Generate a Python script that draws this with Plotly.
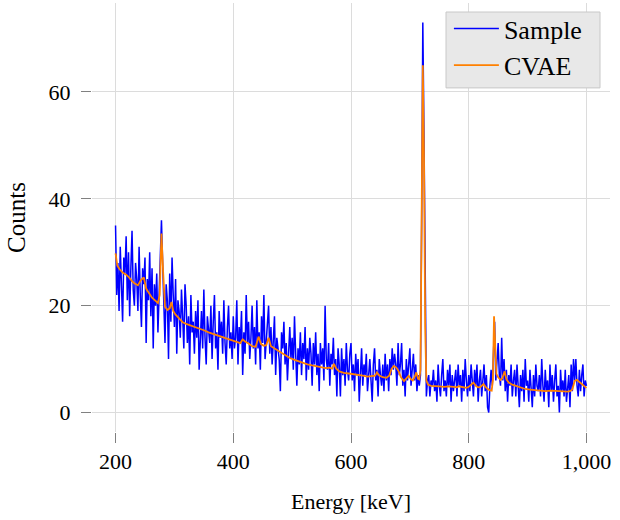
import plotly.graph_objects as go

# Sample spectrum: 2 keV bins from 200 to 1000 keV
energy_start = 200
energy_step = 2
sample_counts = [
    35, 22, 28, 19, 31, 24, 17, 29, 26, 33,
    21, 30, 18, 27, 34, 23, 20, 28, 25, 19,
    31, 22, 16, 27, 24, 29, 13, 25, 21, 30,
    18, 27, 12, 24, 20, 26, 15, 22, 29, 36,
    28, 19, 13, 24, 21, 10, 26, 17, 29, 22,
    16, 25, 11, 21, 19, 14, 23, 18, 12, 24,
    20, 13, 18, 9, 22, 15, 17, 11, 19, 14,
    21, 8, 16, 19, 12, 23, 14, 9, 18, 16,
    13, 20, 10, 17, 22, 12, 15, 8, 19, 14,
    17, 11, 21, 13, 9, 16, 20, 12, 15, 10,
    18, 12, 14, 21, 9, 16, 13, 19, 7, 15,
    11, 22, 13, 17, 10, 14, 20, 12, 16, 9,
    21, 12, 15, 8, 18, 13, 22, 10, 14, 17,
    20, 11, 16, 9, 13, 18, 7, 14, 12, 10,
    4, 15, 12, 17, 9, 13, 6, 11, 16, 10,
    14, 8, 18, 11, 5, 12, 9, 15, 7, 13,
    10, 16, 6, 12, 8, 14, 11, 5, 13, 9,
    15, 7, 11, 4, 13, 9, 12, 6, 20, 10,
    8, 13, 5, 11, 9, 14, 7, 10, 3, 12,
    9, 3, 12, 7, 10, 5, 13, 8, 6, 11,
    13, 6, 9, 4, 11, 7, 10, 2, 8, 12,
    5, 9, 7, 11, 4, 8, 10, 6, 2, 9,
    12, 6, 8, 3, 10, 7, 5, 9, 4, 11,
    6, 9, 4, 10, 7, 12, 8, 11, 9, 5,
    13, 7, 9, 13, 5, 8, 3, 10, 6, 9,
    12, 5, 8, 11, 6, 9, 4, 7, 5, 7,
    35, 73, 52, 18, 3, 6, 7, 3, 6, 5,
    8, 4, 6, 2, 9, 5, 3, 7, 10, 4,
    6, 3, 8, 5, 9, 2, 7, 4, 6, 8,
    3, 9, 5, 7, 2, 8, 4, 10, 6, 3,
    7, 4, 9, 6, 3, 8, 5, 9, 2, 6,
    8, 3, 6, 9, 4, 7, 1, 0, 5, 8,
    5, 10, 17, 6, 9, 13, 7, 5, 14, 6,
    10, 4, 8, 2, 7, 5, 9, 3, 6, 8,
    3, 9, 5, 1, 7, 4, 8, 2, 10, 5,
    6, 2, 8, 4, 1, 7, 3, 9, 5, 4,
    7, 3, 10, 5, 2, 8, 4, 6, 1, 9,
    4, 7, 2, 6, 9, 3, 5, 0, 8, 4,
    6, 3, 8, 2, 5, 7, 1, 9, 4, 10,
    6, 10, 5, 3, 8, 4, 7, 9, 3, 6,
    5,
]
sample_energy = [energy_start + energy_step * i for i in range(len(sample_counts))]

# CVAE reconstruction
cvae_energy = [
    200, 203, 207, 212, 218, 223, 228, 232, 238, 243, 248, 252, 257, 262, 267, 272,
    275, 278, 281, 284, 288, 292, 295, 298, 302, 308, 314, 320, 328, 335, 342, 350,
    358, 366, 374, 382, 390, 398, 406, 412, 416, 420, 426, 432, 438, 443, 447, 452,
    456, 460, 464, 470, 477, 484, 490, 496, 503, 510, 518, 526, 534, 542, 550, 557,
    563, 568, 571, 575, 580, 588, 596, 604, 612, 620, 628, 636, 641, 644, 648, 654,
    660, 665, 669, 673, 677, 681, 685, 690, 694, 698, 702, 705, 708, 711, 714, 716,
    718, 720, 722, 724, 726, 728, 731, 736, 742, 750, 758, 766, 774, 780, 783, 790,
    796, 800, 805, 808, 812, 816, 820, 825, 830, 835, 839, 841, 843, 845, 847, 850,
    854, 857, 861, 864, 868, 874, 880, 888, 896, 904, 912, 920, 930, 940, 950, 960,
    968, 972, 976, 980, 984, 988, 992, 996, 1000,
]
cvae_counts = [
    29.8, 27.5, 26.8, 26.2, 25.8, 25.3, 24.6, 24.2, 23.8, 24.8, 25.3, 23.2, 22.3, 21.5, 21.0, 20.5,
    22.0, 33.5, 26.0, 19.8, 19.2, 19.5, 20.7, 19.0, 18.3, 17.6, 16.9, 16.6, 16.3, 16.0, 15.8, 15.4,
    15.0, 14.7, 14.3, 14.0, 13.7, 13.4, 13.2, 13.0, 13.7, 13.3, 12.9, 12.4, 12.3, 14.2, 12.8, 12.5,
    12.6, 14.0, 12.4, 12.0, 11.5, 11.0, 10.6, 10.2, 9.9, 9.6, 9.3, 9.0, 8.8, 8.6, 8.4, 8.3,
    8.4, 8.2, 9.1, 8.2, 7.7, 7.4, 7.3, 7.2, 7.1, 6.9, 6.7, 6.8, 6.9, 7.5, 6.9, 6.6,
    6.5, 6.9, 8.2, 8.7, 8.4, 7.7, 6.6, 5.9, 6.4, 6.9, 6.2, 6.0, 6.6, 7.5, 6.3, 6.2,
    8.0, 32.0, 65.0, 48.0, 16.0, 6.0, 5.2, 5.0, 4.9, 4.9, 4.8, 4.9, 4.8, 4.7, 4.9, 4.8,
    4.6, 4.8, 5.3, 5.6, 5.0, 4.7, 4.8, 5.3, 4.6, 4.2, 4.1, 6.0, 18.0, 11.0, 7.2, 6.6,
    6.1, 6.4, 7.7, 6.2, 5.6, 5.2, 5.0, 4.7, 4.4, 4.3, 4.2, 4.1, 4.0, 4.1, 4.0, 3.9,
    3.9, 4.0, 4.3, 5.9, 6.1, 5.7, 5.3, 4.9, 4.6,
]

x_tick_vals = [200, 400, 600, 800, 1000]
x_tick_text = ["200", "400", "600", "800", "1,000"]
y_tick_vals = [0, 20, 40, 60]

FONT = "Liberation Serif"

fig = go.Figure()
fig.add_trace(go.Scatter(
    x=sample_energy, y=sample_counts, mode="lines", name="Sample",
    line=dict(color="#0000ff", width=1.5), legendgroup="a",
))
fig.add_trace(go.Scatter(
    x=cvae_energy, y=cvae_counts, mode="lines", name="CVAE",
    line=dict(color="#ff8000", width=1.8), legendgroup="b",
))

axis_common = dict(
    showline=False, zeroline=False, showgrid=True, gridcolor="#dcdcdc", gridwidth=1,
    ticks="outside", ticklen=10, tickcolor="#808080", tickwidth=1,
    tickfont=dict(family=FONT, size=22, color="black"),
)

# legend box drawn as a shape (paper coordinates)
fig.add_shape(
    type="rect", xref="paper", yref="paper",
    x0=0.6834, x1=0.9807, y0=0.8021, y1=0.979,
    fillcolor="#e8e8e8", line=dict(color="#c8c8c8", width=1), layer="above",
)

fig.update_layout(
    width=620, height=520,
    margin=dict(l=92, r=10, t=3, b=88),
    paper_bgcolor="white", plot_bgcolor="white",
    font=dict(family=FONT, size=22, color="black"),
    xaxis=dict(
        range=[160, 1040], tickvals=x_tick_vals, ticktext=x_tick_text,
        title=dict(text="Energy [keV]", font=dict(family=FONT, size=22), standoff=20),
        **axis_common,
    ),
    yaxis=dict(
        range=[-3.65, 76.65], tickvals=y_tick_vals, ticklabelstandoff=6,
        title=dict(text="Counts", font=dict(family=FONT, size=25), standoff=15),
        **axis_common,
    ),
    legend=dict(
        x=0.689, y=0.9953, xanchor="left", yanchor="top",
        bgcolor="rgba(0,0,0,0)", borderwidth=0,
        font=dict(family=FONT, size=26, color="black"),
        tracegroupgap=0, itemwidth=45,
    ),
    showlegend=True,
)

fig.write_html(
    "out.html",
    config={"displayModeBar": False},
    post_script="document.body.style.margin='0px';",
)
